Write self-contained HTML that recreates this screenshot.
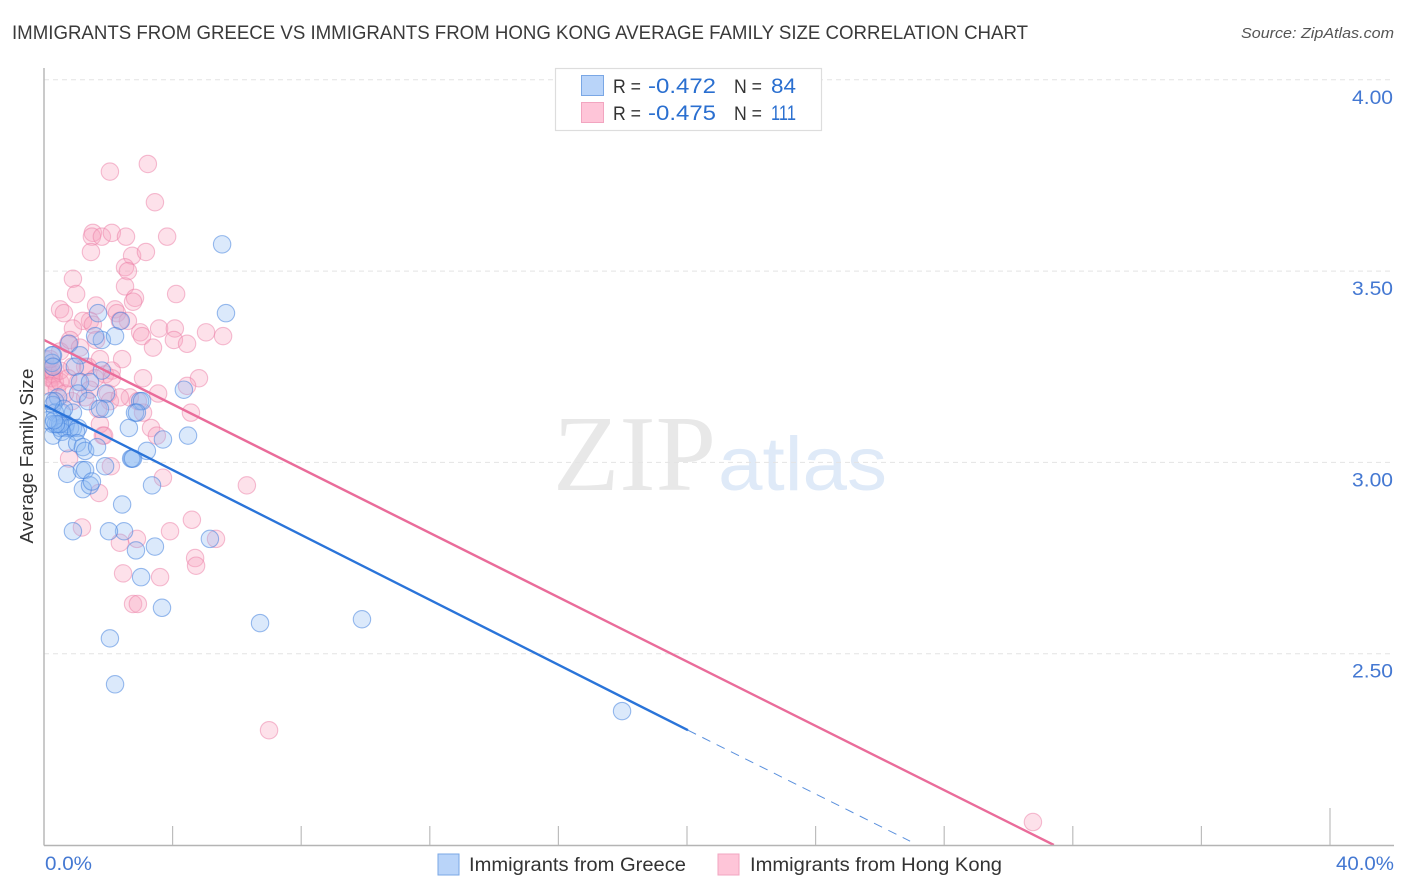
<!DOCTYPE html>
<html>
<head>
<meta charset="utf-8">
<title>Immigrants from Greece vs Immigrants from Hong Kong Average Family Size</title>
<style>
html,body{margin:0;padding:0;background:#fff;}
svg{display:block;font-family:"Liberation Sans",sans-serif;}
</style>
</head>
<body>
<svg id="chart" width="1406" height="892" viewBox="0 0 1406 892" xmlns="http://www.w3.org/2000/svg">
  <defs>
    <clipPath id="plot-clip"><rect x="44.5" y="60" width="1350" height="785"/></clipPath>
  </defs>
  <text x="12" y="39" font-size="19.2" fill="#3a3a3a" textLength="1016" lengthAdjust="spacingAndGlyphs">IMMIGRANTS FROM GREECE VS IMMIGRANTS FROM HONG KONG AVERAGE FAMILY SIZE CORRELATION CHART</text>
  <text x="1394" y="38" font-size="15" font-style="italic" fill="#555" text-anchor="end" textLength="153" lengthAdjust="spacingAndGlyphs">Source: ZipAtlas.com</text>

  <g>
    <text x="553" y="490" font-family="'Liberation Serif',serif" font-size="108" fill="#e8e8e8" textLength="163" lengthAdjust="spacingAndGlyphs">ZIP</text>
    <text x="718" y="490" font-size="76" fill="#dfeaf8" textLength="169" lengthAdjust="spacingAndGlyphs">atlas</text>
  </g>

  <g id="grid"></g>
  <g clip-path="url(#plot-clip)">
    <g id="points-hk"></g>
    <g id="points-greece"></g>
    <g id="trends"></g>
  </g>
  <g id="axes"></g>
  <g id="ylabels"></g>

  <text transform="translate(33,456) rotate(-90)" font-size="18.5" fill="#333" text-anchor="middle" textLength="175" lengthAdjust="spacingAndGlyphs">Average Family Size</text>
  <text x="45" y="870" font-size="19" fill="#4478d2" textLength="47" lengthAdjust="spacingAndGlyphs">0.0%</text>
  <text x="1336" y="870" font-size="19" fill="#4478d2" textLength="58" lengthAdjust="spacingAndGlyphs">40.0%</text>

  <g>
    <rect x="555.5" y="68.5" width="266" height="62" fill="#fff" stroke="#ddd" stroke-width="1.2"/>
    <rect x="581.5" y="75.5" width="22" height="20" fill="#b9d4f9" stroke="#7aa7e5" stroke-width="1"/>
    <rect x="581.5" y="102.5" width="22" height="20" fill="#fec5d8" stroke="#f2a5c0" stroke-width="1"/>
    <text x="613" y="93" font-size="19" fill="#333" textLength="28" lengthAdjust="spacingAndGlyphs">R =</text>
    <text x="648" y="93" font-size="21" fill="#2a6fd0" textLength="68" lengthAdjust="spacingAndGlyphs">-0.472</text>
    <text x="734" y="93" font-size="19" fill="#333" textLength="28" lengthAdjust="spacingAndGlyphs">N =</text>
    <text x="771" y="93" font-size="21" fill="#2a6fd0" textLength="25" lengthAdjust="spacingAndGlyphs">84</text>
    <text x="613" y="120" font-size="19" fill="#333" textLength="28" lengthAdjust="spacingAndGlyphs">R =</text>
    <text x="648" y="120" font-size="21" fill="#2a6fd0" textLength="68" lengthAdjust="spacingAndGlyphs">-0.475</text>
    <text x="734" y="120" font-size="19" fill="#333" textLength="28" lengthAdjust="spacingAndGlyphs">N =</text>
    <text x="771" y="120" font-size="21" fill="#2a6fd0" textLength="25" lengthAdjust="spacingAndGlyphs">111</text>
  </g>

  <g>
    <rect x="438" y="854" width="21" height="21" fill="#b9d4f9" stroke="#7aa7e5" stroke-width="1"/>
    <text x="469" y="871" font-size="19" fill="#333" textLength="217" lengthAdjust="spacingAndGlyphs">Immigrants from Greece</text>
    <rect x="718" y="854" width="21" height="21" fill="#fec5d8" stroke="#f2a5c0" stroke-width="1"/>
    <text x="750" y="871" font-size="19" fill="#333" textLength="252" lengthAdjust="spacingAndGlyphs">Immigrants from Hong Kong</text>
  </g>
</svg>
<script>
var yTickValues = [4.0, 3.5, 3.0, 2.5];
var yTickLabels = ["4.00", "3.50", "3.00", "2.50"];
var xTickValues = [0, 4, 8, 12, 16, 20, 24, 28, 32, 36, 40];

var greeceX = [5.54,5.66,1.68,2.39,1.80,2.21,1.59,0.78,0.28,0.25,1.12,0.96,1.80,1.12,1.43,1.06,1.37,1.93,1.90,1.74,4.35,2.99,3.05,2.83,2.89,0.34,0.44,0.28,0.56,0.90,0.34,0.28,0.28,0.50,0.65,0.90,0.68,0.44,0.81,1.06,0.56,1.00,2.64,4.48,3.70,0.72,1.03,1.21,1.28,1.65,3.20,2.74,2.71,2.77,1.90,0.72,1.18,1.28,3.36,1.21,1.43,1.49,2.43,2.49,0.90,2.02,2.86,3.45,3.02,5.16,3.67,2.05,2.21,6.72,9.89,17.98,0.62,0.50,0.22,0.37,0.12,0.31,0.25,0.28];
var greeceY = [3.57,3.39,3.39,3.37,3.32,3.33,3.33,3.31,3.28,3.26,3.28,3.25,3.24,3.21,3.21,3.18,3.16,3.18,3.14,3.14,3.19,3.16,3.16,3.13,3.13,3.16,3.17,3.15,3.13,3.13,3.13,3.10,3.07,3.09,3.09,3.09,3.10,3.10,3.09,3.09,3.08,3.08,3.09,3.07,3.06,3.05,3.05,3.04,3.03,3.04,3.03,3.01,3.01,3.01,2.99,2.97,2.98,2.98,2.94,2.93,2.94,2.95,2.89,2.82,2.82,2.82,2.77,2.78,2.70,2.80,2.62,2.54,2.42,2.58,2.59,2.35,3.14,3.10,3.16,3.10,3.11,3.11,3.28,3.25];

var hongKongX = [3.23,2.05,3.45,1.52,1.49,1.80,2.11,2.55,3.83,1.46,2.74,3.17,2.52,2.61,0.90,2.52,1.00,4.11,2.83,2.77,1.62,0.50,0.62,2.21,2.27,2.61,2.36,1.43,1.21,0.90,1.52,3.58,4.07,4.04,4.45,5.04,5.57,2.99,3.05,3.39,2.43,3.08,4.82,4.45,3.55,4.57,3.08,3.33,3.51,3.70,6.31,2.67,2.92,0.78,2.08,1.83,1.71,1.18,4.60,3.92,5.35,2.36,2.89,4.70,4.73,2.46,3.61,2.77,2.92,7.00,30.76,0.19,0.19,0.25,0.12,0.31,0.25,0.34,0.16,0.40,0.50,0.75,0.50,0.81,1.12,1.62,1.74,1.28,1.06,1.90,1.37,0.87,1.59,2.11,1.99,2.05,0.87,1.28,1.68,2.11,0.50,0.65,2.36,0.03,0.28,0.19,0.34,1.74,1.87,0.75,1.43];
var hongKongY = [3.78,3.76,3.68,3.60,3.59,3.59,3.60,3.59,3.59,3.55,3.54,3.55,3.51,3.50,3.48,3.46,3.44,3.44,3.43,3.42,3.41,3.40,3.39,3.40,3.39,3.37,3.37,3.37,3.37,3.35,3.36,3.35,3.35,3.32,3.31,3.34,3.33,3.34,3.33,3.30,3.27,3.22,3.22,3.20,3.18,3.13,3.13,3.09,3.07,2.96,2.94,3.17,3.16,3.01,2.99,3.07,2.92,2.83,2.85,2.82,2.80,2.79,2.80,2.75,2.73,2.71,2.70,2.63,2.63,2.30,2.06,3.23,3.22,3.22,3.24,3.23,3.24,3.21,3.20,3.19,3.21,3.31,3.29,3.32,3.30,3.32,3.27,3.25,3.21,3.23,3.25,3.25,3.22,3.24,3.18,3.16,3.16,3.17,3.14,3.22,3.24,3.18,3.17,3.27,3.25,3.27,3.16,3.10,3.07,3.22,3.19];

var greeceTrendX = [0, 20.03];
var greeceTrendY = [3.15, 2.30];
var greeceDashX = [20.03, 26.94];
var greeceDashY = [2.30, 2.01];
var hongKongTrendX = [0, 31.41];
var hongKongTrendY = [3.32, 2.0];

var NS = "http://www.w3.org/2000/svg";
function xScale(v) { return 44 + v * 32.15; }
function yScale(v) { return 845 - (v - 2) * 382.6; }

function make(tag, parentId, attrs) {
  var el = document.createElementNS(NS, tag);
  for (var k in attrs) el.setAttribute(k, attrs[k]);
  document.getElementById(parentId).appendChild(el);
  return el;
}

yTickValues.forEach(function (v, i) {
  var line = make("line", "grid", {x1: 44, x2: 1394, y1: yScale(v), y2: yScale(v), stroke: "#e4e4e4", "stroke-width": 1, "stroke-dasharray": "5 4"});
  
  
  var label = make("text", "ylabels", {x: 1352, y: yScale(v) + 24, "font-size": 19.5, fill: "#4478d2", textLength: 41, lengthAdjust: "spacingAndGlyphs"});
  label.textContent = yTickLabels[i];
  
  
});

var yAxis = make("line", "axes", {x1: 44, x2: 44, y1: 68, y2: 845.5, stroke: "#b4b4b4", "stroke-width": 1.4});


var xAxis = make("line", "axes", {x1: 44, x2: 1394, y1: 845.5, y2: 845.5, stroke: "#b4b4b4", "stroke-width": 1.4});


xTickValues.forEach(function (v, i) {
  if (i === 0) return;
  var top = i === xTickValues.length - 1 ? 808 : 826;
  var tick = make("line", "axes", {x1: xScale(v), x2: xScale(v), y1: top, y2: 845, stroke: "#bdbdbd", "stroke-width": 1.2});
  
  
});

hongKongX.forEach(function (v, i) {
  var dot = make("circle", "points-hk", {cx: xScale(v), cy: yScale(hongKongY[i]), r: 8.7, fill: "#f9a3c0", "fill-opacity": 0.33, stroke: "#ec7ea5", "stroke-opacity": 0.5, "stroke-width": 1.1});
  
  
});
greeceX.forEach(function (v, i) {
  var dot = make("circle", "points-greece", {cx: xScale(v), cy: yScale(greeceY[i]), r: 8.7, fill: "#8fbaf3", "fill-opacity": 0.32, stroke: "#3f7fdc", "stroke-opacity": 0.52, "stroke-width": 1.1});
  
  
});

var t1 = make("line", "trends", {x1: xScale(hongKongTrendX[0]), y1: yScale(hongKongTrendY[0]), x2: xScale(hongKongTrendX[1]), y2: yScale(hongKongTrendY[1]), stroke: "#ea6c9a", "stroke-width": 2.4});


var t2 = make("line", "trends", {x1: xScale(greeceTrendX[0]), y1: yScale(greeceTrendY[0]), x2: xScale(greeceTrendX[1]), y2: yScale(greeceTrendY[1]), stroke: "#2a74d9", "stroke-width": 2.4});


var t3 = make("line", "trends", {x1: xScale(greeceDashX[0]), y1: yScale(greeceDashY[0]), x2: xScale(greeceDashX[1]), y2: yScale(greeceDashY[1]), stroke: "#5a90dd", "stroke-width": 1, "stroke-dasharray": "9 7"});


</script>
</body>
</html>
